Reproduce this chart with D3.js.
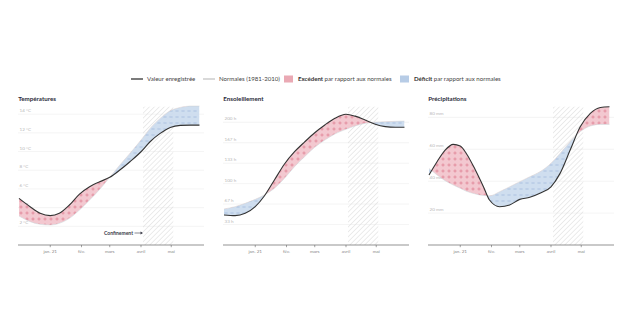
<!DOCTYPE html>
<html><head><meta charset="utf-8">
<script src="https://cdn.jsdelivr.net/npm/d3@7"></script>
<style>
body{margin:0;background:#fff}
svg{display:block}
text{font-family:Lato,"Noto Sans",sans-serif}
</style>
</head><body>
<svg id="c" width="644" height="322"></svg>
<script>
// ---------- DATA ----------
const gridDates = ["2020-12-01","2020-12-12","2020-12-22","2021-01-01","2021-01-10","2021-01-20","2021-01-30","2021-02-09","2021-02-19","2021-03-01","2021-03-11","2021-03-21","2021-04-01","2021-04-10","2021-04-20","2021-04-30","2021-05-10","2021-05-20","2021-05-29"];
const tempRecorded = [4.99,4.10,3.39,3.14,3.39,4.28,5.45,6.24,6.77,7.24,8.02,8.91,9.98,11.05,11.94,12.58,12.80,12.83,12.83];
const tempNormal   = [3.10,2.50,2.21,2.14,2.32,2.85,3.74,4.81,5.95,7.24,8.56,9.80,11.23,12.48,13.55,14.37,14.72,14.87,14.87];
const sunRecorded  = [48.9,47.8,51.6,62.5,79.9,106,132,152,168,183,195.6,206.5,213,210,203.7,196.7,192.9,191.8,191.8];
const sunNormal    = [58.7,62.5,67.9,74.4,81.5,92.4,108.7,127.7,144,159.2,171,181,188.5,194,198.3,200,201,201.6,202];
const rainDates    = ["2020-12-01","2020-12-09","2020-12-17","2020-12-25","2021-01-01","2021-01-07","2021-01-16","2021-01-24","2021-01-30","2021-02-09","2021-02-19","2021-03-01","2021-03-11","2021-03-21","2021-04-01","2021-04-10","2021-04-20","2021-04-30","2021-05-10","2021-05-20","2021-05-29"];
const rainRecorded = [43.9,52.2,59.5,63.1,62,57.4,47,36.5,28.2,24,25.1,28.6,29.9,32.4,36.5,44.9,59.5,74.1,82.5,86.2,86.7];
const rainNormal   = [48,43.9,40.3,37.6,35.5,33.7,32,31,30.8,33.4,36.5,39.7,42.8,45.9,51.2,57.4,64.7,71,74.6,75.6,75.6];
const tickDates  = ["2021-01-01","2021-02-01","2021-03-01","2021-04-01","2021-05-01"];
const tickLabels = ["jan. 21","fév.","mars","avril","mai"];
const tempTicks = [2,4,6,8,10,12,14];
const sunTicks  = [33.33,66.67,100,133.33,166.67,200];
const rainTicks = [20,40,60,80];
const lockdown  = ["2021-04-03","2021-05-03"];
const panelTitles = ["Températures","Ensoleillement","Précipitations"];
const units = ["°C","h","mm"];
const yMax = [14.8,225.4,86.7];

// ---------- SETUP ----------
const parse = d3.timeParse("%Y-%m-%d");
const svg = d3.select("#c");
const defs = svg.append("defs");

const pPink = defs.append("pattern").attr("id","pink").attr("patternUnits","userSpaceOnUse").attr("width",6).attr("height",6);
pPink.append("rect").attr("width",6).attr("height",6).attr("fill","#f2c5cd");
pPink.append("path").attr("d","M3,1.4V4.6M1.4,3H4.6").attr("stroke","#e07d90").attr("stroke-width",0.8);
const pBlue = defs.append("pattern").attr("id","blue").attr("patternUnits","userSpaceOnUse").attr("width",6).attr("height",6);
pBlue.append("rect").attr("width",6).attr("height",6).attr("fill","#cbdbee");
pBlue.append("path").attr("d","M1.4,3H4.6").attr("stroke","#98b4d8").attr("stroke-width",0.8);
const pHatch = defs.append("pattern").attr("id","hatch").attr("patternUnits","userSpaceOnUse").attr("width",3.5).attr("height",3.5).attr("patternTransform","rotate(45)");
pHatch.append("line").attr("x1",0).attr("y1",0).attr("x2",0).attr("y2",3.5).attr("stroke","#dcdcdc").attr("stroke-width",1.1);

// ---------- LEGEND ----------
const lg = svg.append("g").attr("font-size",6.1).attr("fill","#444");
lg.append("line").attr("x1",131).attr("x2",143).attr("y1",79).attr("y2",79).attr("stroke","#333").attr("stroke-width",1.3);
lg.append("text").attr("x",147).attr("y",81.2).text("Valeur enregistrée");
lg.append("line").attr("x1",203).attr("x2",215).attr("y1",79).attr("y2",79).attr("stroke","#aaa").attr("stroke-width",0.9);
lg.append("text").attr("x",219).attr("y",81.2).text("Normales (1981-2010)");
lg.append("rect").attr("x",284).attr("y",75.5).attr("width",9).attr("height",7).attr("fill","#eaa9b4");
const t1 = lg.append("text").attr("x",298).attr("y",81.2);
t1.append("tspan").attr("font-weight","bold").attr("fill","#333").text("Excédent");
t1.append("tspan").text(" par rapport aux normales");
lg.append("rect").attr("x",400).attr("y",75.5).attr("width",9).attr("height",7).attr("fill","#b7cce6");
const t2 = lg.append("text").attr("x",414).attr("y",81.2);
t2.append("tspan").attr("font-weight","bold").attr("fill","#333").text("Déficit");
t2.append("tspan").text(" par rapport aux normales");

// ---------- PANELS ----------
const panels = [
  {dates: gridDates, rec: tempRecorded, norm: tempNormal, ticks: tempTicks},
  {dates: gridDates, rec: sunRecorded, norm: sunNormal, ticks: sunTicks},
  {dates: rainDates, rec: rainRecorded, norm: rainNormal, ticks: rainTicks}
];
const W = 186, yTop = 106.7, yBottom = 245;

panels.forEach((p, i) => {
  const left = 18 + i*205;
  const g = svg.append("g").attr("transform", `translate(${left},0)`);
  const x = d3.scaleTime().domain([parse("2020-12-01"), parse("2021-06-01")]).range([1, 184.5]);
  const y = d3.scaleLinear().domain([0, yMax[i]]).range([yBottom, yTop]);
  const data = p.dates.map((d, k) => ({date: parse(d), r: p.rec[k], n: p.norm[k]}));

  g.append("text").attr("x",0.3).attr("y",100.5).attr("font-size",6.2).attr("font-weight","bold").attr("fill","#2b2c3a").text(panelTitles[i]);

  const grid = g.append("g");
  p.ticks.forEach(t => {
    grid.append("line").attr("x1",0).attr("x2",W).attr("y1",y(t)).attr("y2",y(t)).attr("stroke","#ececec").attr("stroke-width",0.6);
    grid.append("text").attr("x",1.5).attr("y",y(t)-2).attr("font-size",4.6).attr("fill","#b8b8b8").text(`${Math.round(t)} ${units[i]}`);
  });

  g.append("rect").attr("x", x(parse(lockdown[0]))).attr("width", x(parse(lockdown[1])) - x(parse(lockdown[0])))
    .attr("y", yTop).attr("height", yBottom - yTop).attr("fill","url(#hatch)");

  const curve = d3.curveMonotoneX;
  const band = d3.area().x(d => x(d.date)).y0(d => y(d.n)).y1(d => y(d.r)).curve(curve);
  const aboveClip = d3.area().x(d => x(d.date)).y0(d => y(d.n)).y1(yTop - 5).curve(curve);
  const belowClip = d3.area().x(d => x(d.date)).y0(d => y(d.n)).y1(yBottom + 5).curve(curve);
  defs.append("clipPath").attr("id",`above${i}`).append("path").attr("d", aboveClip(data));
  defs.append("clipPath").attr("id",`below${i}`).append("path").attr("d", belowClip(data));

  g.append("path").attr("d", band(data)).attr("fill","url(#pink)").attr("clip-path",`url(#above${i})`).attr("opacity",0.95);
  g.append("path").attr("d", band(data)).attr("fill","url(#blue)").attr("clip-path",`url(#below${i})`).attr("opacity",0.92);

  const lineN = d3.line().x(d => x(d.date)).y(d => y(d.n)).curve(curve);
  const lineR = d3.line().x(d => x(d.date)).y(d => y(d.r)).curve(curve);
  g.append("path").attr("d", lineN(data)).attr("fill","none").attr("stroke","#c9c9c9").attr("stroke-width",0.4);
  g.append("path").attr("d", lineR(data)).attr("fill","none").attr("stroke","#333").attr("stroke-width",1.1);

  const ax = g.append("g").attr("transform",`translate(0,${yBottom})`);
  ax.append("line").attr("x1",0).attr("x2",W).attr("stroke","#666").attr("stroke-width",0.7);
  tickDates.forEach((d, k) => {
    const xx = x(parse(d));
    ax.append("line").attr("x1",xx).attr("x2",xx).attr("y1",0).attr("y2",2.2).attr("stroke","#666").attr("stroke-width",0.6);
    ax.append("text").attr("x",xx).attr("y",7.6).attr("text-anchor","middle").attr("font-size",4.6).attr("fill","#888").text(tickLabels[k]);
  });

  if (i === 0) {
    const xa = x(parse(lockdown[0]));
    g.append("text").attr("x", xa - 10).attr("y", 234.8).attr("text-anchor","end").attr("font-size",5).attr("font-weight","bold").attr("fill","#3a3b48").text("Confinement");
    g.append("line").attr("x1", xa - 8.5).attr("x2", xa - 2).attr("y1",233).attr("y2",233).attr("stroke","#3a3b48").attr("stroke-width",0.6);
    g.append("path").attr("d", `M${xa-2.5},231.6L${xa},233L${xa-2.5},234.4Z`).attr("fill","#3a3b48");
  }
});
</script>
</body></html>
